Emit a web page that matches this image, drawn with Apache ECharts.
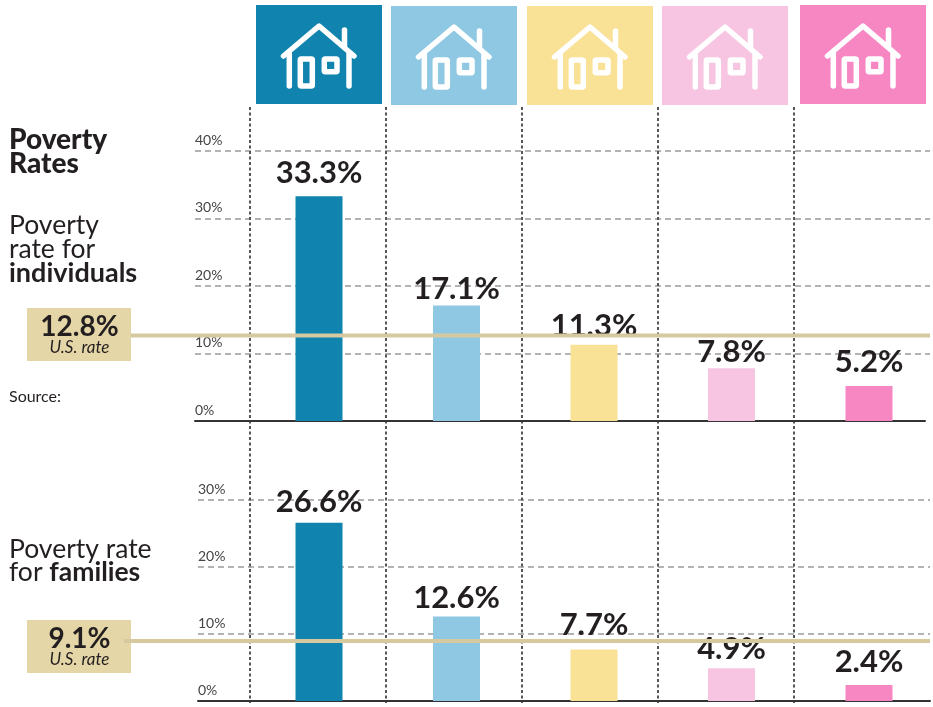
<!DOCTYPE html>
<html><head><meta charset="utf-8">
<style>html,body{margin:0;padding:0;background:#fff}#c{width:933px;height:707px}</style>
<script src="https://cdn.jsdelivr.net/npm/echarts@6/dist/echarts.min.js"></script>
</head><body><div id="c"></div>
<script>
const groups = ['Group 1', 'Group 2', 'Group 3', 'Group 4', 'Group 5'];
const individuals = [33.3, 17.1, 11.3, 7.8, 5.2];
const families = [26.6, 12.6, 7.7, 4.9, 2.4];
const usRateIndividuals = 12.8;
const usRateFamilies = 9.1;
const colors = ['#1083AE', '#8FC8E3', '#F9E196', '#F7C5E2', '#F687C3'];
const tileX = [256, 391, 527, 662, 800];
const tileY = [5, 6, 6, 6, 5];
const gapsIndividuals = [7.5, 1.5, 3.5, 0.5, 8.5];
const gapsFamilies = [5.5, 3.5, 8.5, 3.5, 7.5];

const FONT = 'Lato';
const INK = '#231F20';
const chart = echarts.init(document.getElementById('c'));

function houseIcon(x, y) {
  const st = {stroke: '#fff', lineWidth: 5.5, lineCap: 'round', lineJoin: 'round', fill: 'none'};
  const poly = p => ({type: 'polyline', shape: {points: p}, style: st});
  return {type: 'group', x, y, children: [
    poly([[27.5, 51], [63, 21], [98, 51]]),
    poly([[88.5, 25], [88.5, 41]]),
    poly([[33.3, 49], [33.3, 81]]),
    poly([[93, 49], [93, 81]]),
    {type: 'rect', shape: {x: 44.3, y: 54, width: 12, height: 27, r: 1}, style: st},
    {type: 'rect', shape: {x: 68.3, y: 54, width: 12.7, height: 12.7, r: 1}, style: st}
  ]};
}
const txt = (x, y, text, size, weight, extra) => ({type: 'text', x, y, style: Object.assign({
  text, fontFamily: FONT, fontSize: size, fontWeight: weight, fill: INK, verticalAlign: 'middle'}, extra || {})});

const graphic = [];
colors.forEach((c, i) => {
  graphic.push({type: 'rect', shape: {x: tileX[i], y: tileY[i], width: 126, height: 99}, style: {fill: c}});
  graphic.push(houseIcon(tileX[i], tileY[i]));
});
graphic.push(
  txt(9, 140, 'Poverty', 28, 900),
  txt(9, 164, 'Rates', 28, 900),
  txt(9, 225, 'Poverty', 26.5, 400),
  txt(9, 249, 'rate for', 26.5, 400),
  txt(9, 273, 'individuals', 27, 700),
  txt(9, 397, 'Source:', 16, 400),
  txt(9, 549, 'Poverty rate', 26.5, 400),
  {type: 'text', x: 9, y: 572, style: {text: 'for {b|families}', fontFamily: FONT, fontSize: 26.5, fill: INK, verticalAlign: 'middle', rich: {b: {fontFamily: FONT, fontSize: 26.5, fontWeight: 700, fill: INK}}}},
  {type: 'rect', shape: {x: 27, y: 308, width: 104, height: 53}, style: {fill: '#E5D6A7'}},
  {type: 'rect', shape: {x: 27, y: 620, width: 104, height: 53}, style: {fill: '#E5D6A7'}},
  txt(79.5, 327, usRateIndividuals.toFixed(1) + '%', 28, 700, {align: 'center'}),
  txt(79.5, 348, 'U.S. rate', 17, 400, {align: 'center', fontStyle: 'italic'}),
  txt(79.5, 639, usRateFamilies.toFixed(1) + '%', 28, 700, {align: 'center'}),
  txt(79.5, 660, 'U.S. rate', 17, 400, {align: 'center', fontStyle: 'italic'})
);

const grid = [], xAxis = [], yAxis = [], series = [];
function addGrid(g, x, y) {
  const idx = grid.length;
  grid.push(Object.assign({containLabel: false, outerBoundsMode: 'none'}, g));
  xAxis.push(Object.assign({gridIndex: idx}, x));
  yAxis.push(Object.assign({gridIndex: idx}, y));
  return idx;
}
const hidden = {show: false};
addGrid({left: 250, width: 680, top: 107, height: 596},
  {type: 'value', min: 0, max: 5, interval: 1, axisLine: hidden, axisTick: hidden, axisLabel: hidden,
   splitLine: {show: true, showMaxLine: false, lineStyle: {color: '#555', width: 2, type: [3, 2.5]}}},
  {type: 'value', min: 0, max: 1, show: false, splitLine: hidden});

function panel(top, height, max, left, axisWidth, values, gaps, rate, rateLeft) {
  // horizontal rules and tick labels reach the right edge of the plot
  addGrid({left, right: 3, top, height},
    {type: 'value', min: 0, max: 1, axisLine: hidden, axisTick: hidden, axisLabel: hidden, splitLine: hidden},
    {type: 'value', min: 0, max, interval: 10, axisLine: hidden, axisTick: hidden,
     axisLabel: {inside: true, margin: 0, formatter: '{value}%', fontFamily: FONT, fontSize: 14, color: '#444', verticalAlign: 'bottom', align: 'left', lineHeight: 22},
     splitLine: {show: true, showMinLine: false, lineStyle: {color: '#9a9a9a', width: 1.5, type: [6, 4]}}});
  // baseline
  addGrid({left, width: axisWidth, top, height},
    {type: 'value', min: 0, max: 1, axisLine: {show: true, lineStyle: {color: '#333', width: 2}}, axisTick: hidden, axisLabel: hidden, splitLine: hidden},
    {type: 'value', min: 0, max, show: false, splitLine: hidden});
  const b = addGrid({left: 250.25, width: 687.5, top, height},
    {type: 'category', data: groups, show: false},
    {type: 'value', min: 0, max, show: false, splitLine: hidden});
  series.push({type: 'bar', xAxisIndex: b, yAxisIndex: b, z: 3, barWidth: 47,
    data: values.map((v, i) => ({value: v, itemStyle: {color: colors[i]}, label: {distance: gaps[i]}})),
    label: {show: true, position: 'top', formatter: p => p.value.toFixed(1) + '%',
      fontFamily: FONT, fontSize: 31, fontWeight: 700, color: INK}});
  const r = addGrid({left: rateLeft, right: 3, top: top + 1, height},
    {type: 'value', min: 0, max: 1, show: false, splitLine: hidden},
    {type: 'value', min: 0, max, show: false, splitLine: hidden});
  series.push({type: 'line', xAxisIndex: r, yAxisIndex: r, z: 6, symbol: 'none', silent: true,
    lineStyle: {color: '#D6C9A0', width: 4, cap: 'butt'}, data: [[0, rate], [1, rate]]});
}
panel(151, 270, 40, 195, 730, individuals, gapsIndividuals, usRateIndividuals, 131);
panel(500, 201, 30, 198, 732, families, gapsFamilies, usRateFamilies, 124);

chart.setOption({animation: false, backgroundColor: '#fff', grid, xAxis, yAxis, series, graphic});
</script></body></html>
